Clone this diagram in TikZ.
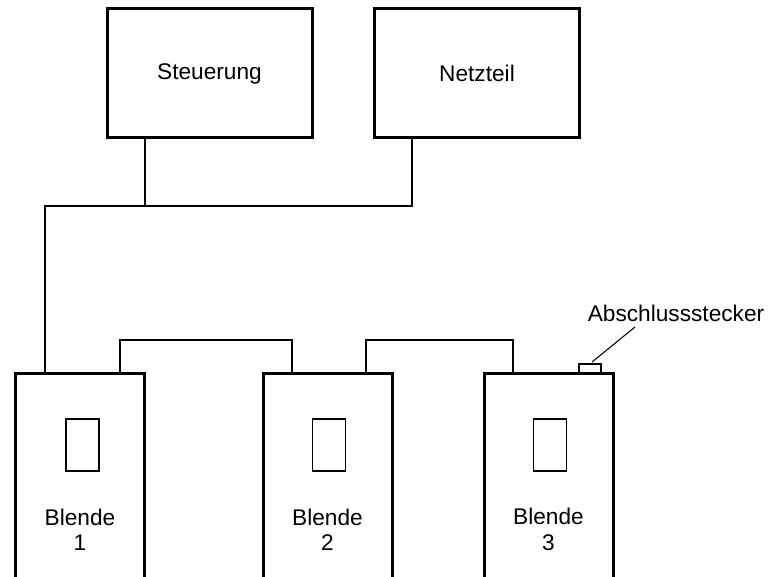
\documentclass[tikz,border=0pt]{standalone}
\usepackage{fontspec}
\setmainfont{Liberation Sans}
\begin{document}
\begin{tikzpicture}[x=0.75pt,y=-0.75pt,
  unitbox/.style={draw,line width=2.25pt,rectangle,inner sep=0pt,outer sep=0pt},
  window/.style={draw,line width=1.1pt,rectangle,inner sep=0pt,
    minimum width=24.75pt,minimum height=39pt},
  wire/.style={line width=0.8pt},
  lbl/.style={font=\fontsize{17}{19}\selectfont,align=center,inner sep=0pt}]
\useasboundingbox (0,0) rectangle (771,577);
\begin{scope}
\clip (0,0) rectangle (771,577);

% control unit and power supply
\node[unitbox,minimum width=153.75pt,minimum height=96.75pt,lbl] (st) at (209.5,73.5) {Steuerung};
\node[unitbox,minimum width=153.75pt,minimum height=96.75pt,lbl] (nt) at (477,73.5) {Netzteil};

% shutter units (bottom runs past the page edge)
\node[unitbox,minimum width=96.75pt,minimum height=153.75pt] (b1) at (80,475.5) {};
\node[unitbox,minimum width=96.75pt,minimum height=153.75pt] (b2) at (327.5,475.5) {};
\node[unitbox,minimum width=96.75pt,minimum height=153.75pt] (b3) at (548.5,475.5) {};

\node[window] (w1) at (82.5,445) {};
\node[window] (w2) at (329,445) {};
\node[window] (w3) at (550,445) {};

\node[lbl] (l1) at (80,529.5) {Blende\\1};
\node[lbl] (l2) at (327.5,529.5) {Blende\\2};
\node[lbl] (l3) at (548.5,529.5) {Blende\\3};

% terminating plug
\node[draw,line width=0.8pt,rectangle,inner sep=0pt,minimum width=16.5pt,minimum height=6.75pt] (plug) at (590,368.5) {};
\node[lbl] (plt) at (676,313) {Abschlussstecker};

% bus wiring
\coordinate (j0) at (45,206);
\coordinate (j1) at (145,206);
\coordinate (j2) at (412,206);
\draw[wire] (st.south -| j1) -- (j1);
\draw[wire] (nt.south -| j2) -- (j2) -- (j0) -- (b1.north -| j0);

\coordinate (c1) at (120,340);
\coordinate (c2) at (292,340);
\coordinate (c3) at (366,340);
\coordinate (c4) at (513,340);
\draw[wire] (b1.north -| c1) -- (c1) -- (c2) -- (b2.north -| c2);
\draw[wire] (b2.north -| c3) -- (c3) -- (c4) -- (b3.north -| c4);

% leader to the plug
\coordinate (ls) at (592,362);
\coordinate (le) at (635,327);
\draw[wire] (ls) -- (le);
\end{scope}
\end{tikzpicture}
\end{document}
